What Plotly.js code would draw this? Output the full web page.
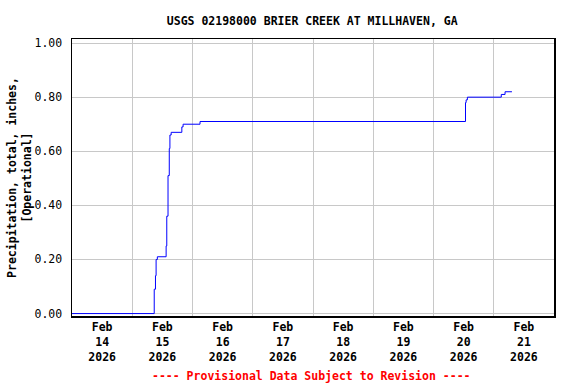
<!DOCTYPE html>
<html>
<head>
<meta charset="utf-8">
<script src="https://cdn.plot.ly/plotly-3.0.1.min.js"></script>
<style>html,body{margin:0;padding:0;background:#fff;}#chart{width:576px;height:384px;}</style>
</head>
<body>
<div id="chart"></div>
<script>
// Time of each change in cumulative precipitation (local time) and the new total (inches)
const times = [
  "2026-02-14 00:00", "2026-02-15 08:45", "2026-02-15 09:15", "2026-02-15 09:30",
  "2026-02-15 10:00", "2026-02-15 13:30", "2026-02-15 13:45", "2026-02-15 14:15",
  "2026-02-15 14:45", "2026-02-15 15:00", "2026-02-15 15:30", "2026-02-15 19:45",
  "2026-02-15 20:15", "2026-02-16 03:00", "2026-02-20 12:45", "2026-02-20 13:00",
  "2026-02-20 13:30", "2026-02-21 03:00", "2026-02-21 04:30", "2026-02-21 07:15"
];
const precip = [
  0.00, 0.09, 0.14, 0.20,
  0.21, 0.25, 0.36, 0.51,
  0.61, 0.66, 0.67, 0.69,
  0.70, 0.71, 0.78, 0.79,
  0.80, 0.81, 0.82, 0.82
];
const yTicks = [0, 0.2, 0.4, 0.6, 0.8, 1.0];
const titleText = "USGS 02198000 BRIER CREEK AT MILLHAVEN, GA";
const yTitle = "Precipitation, total, inches,<br>[Operational]";
const footer = "---- Provisional Data Subject to Revision ----";

const mono = "DejaVu Sans Mono, monospace";

Plotly.newPlot("chart", [{
  x: times, y: precip, type: "scatter", mode: "lines",
  line: {color: "#0000ff", width: 1, shape: "hv"},
  hoverinfo: "skip"
}], {
  width: 576, height: 384,
  margin: {l: 72, r: 22, t: 39, b: 68},
  paper_bgcolor: "#fff", plot_bgcolor: "#fff",
  showlegend: false,
  title: {text: "<b>" + titleText + "</b>", x: 0.542, xanchor: "center", y: 0.945, yanchor: "middle",
          font: {family: mono, size: 11.5, color: "#000"}},
  xaxis: {
    type: "date", range: ["2026-02-14 00:00", "2026-02-22 00:00"],
    dtick: 86400000, tick0: "2026-02-14", ticklabelmode: "period",
    tickformat: "<b>%b</b><br><b>%d</b><br><b>%Y</b>",
    tickfont: {family: mono, size: 11.5, color: "#000"},
    showgrid: true, gridcolor: "#c8c8c8", gridwidth: 1,
    showline: true, linecolor: "#000", linewidth: 1.5, mirror: true,
    ticks: "", zeroline: false, fixedrange: true
  },
  yaxis: {
    range: [-0.009, 1.015],
    tickvals: yTicks, tickformat: ".2f",
    tickfont: {family: mono, size: 11.5, color: "#000"},
    showgrid: true, gridcolor: "#c8c8c8", gridwidth: 1,
    showline: true, linecolor: "#000", linewidth: 1.5, mirror: true,
    ticks: "outside", ticklen: 6, tickcolor: "rgba(0,0,0,0)",
    zeroline: false, fixedrange: true,
    title: {text: "<b>" + yTitle + "</b>", standoff: 0,
            font: {family: mono, size: 11.5, color: "#000"}}
  },
  annotations: [{
    text: "<b>" + footer + "</b>", xref: "paper", yref: "paper",
    x: 0.497, y: -0.215, xanchor: "center", yanchor: "middle", showarrow: false,
    font: {family: mono, size: 11.5, color: "#ff0000"}
  }]
}, {displayModeBar: false, staticPlot: true});
</script>
</body>
</html>
